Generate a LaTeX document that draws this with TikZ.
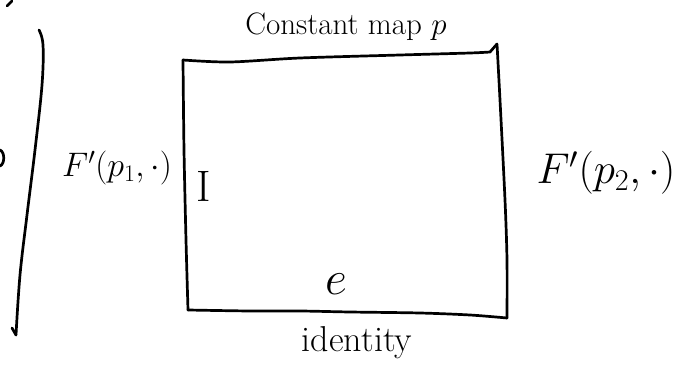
\RequirePackage{fix-cm}
\documentclass[tikz,border=0pt]{standalone}
\usepackage{amsmath}
\begin{document}
\begin{tikzpicture}[x=1pt,y=-1pt,
  ink/.style={line width=2.7pt,line cap=round,line join=round,black},
  lbl/.style={inner sep=0pt,anchor=center}]
\useasboundingbox (0,0) rectangle (688,366);
% stray marks at the left border
\draw[ink] (7,6) -- (12,1);
\draw[ink] (0,150) .. controls (5,152) and (5,164) .. (0,166);
% long vertical stroke on the left
\draw[ink] plot[smooth,tension=0.6] coordinates {(39,30) (43,45) (42,85) (35,150) (27,215) (20,275) (16,335)};
\draw[ink] (12,328) -- (16,335);
% rectangle
\coordinate (tl) at (183,60);
\coordinate (tr) at (497,44);
\coordinate (br) at (507,318);
\coordinate (bl) at (188,310);
\draw[ink] plot[smooth,tension=0.5] coordinates {(tl) (230,62) (300,58) (400,55) (470,53) (490,52)} -- (tr);
\draw[ink] plot[smooth,tension=0.5] coordinates {(tr) (500,100) (505,200) (507,260) (br)};
\draw[ink] plot[smooth,tension=0.5] coordinates {(bl) (250,311) (300,311) (350,312) (420,313) (470,315) (br)};
\draw[ink] plot[smooth,tension=0.5] coordinates {(tl) (184,150) (186,240) (bl)};
% labels
\node[lbl] (top) at (346,27) {\fontsize{31}{34}\selectfont Constant map $p$};
\node[lbl] (left) at (117,168) {\fontsize{34}{38}\selectfont $F'(p_1,\cdot)$};
\node[lbl] (right) at (606,173) {\fontsize{43}{47}\selectfont $F'(p_2,\cdot)$};
\node[lbl] (I) at (204,186) {\fontsize{44}{48}\selectfont I};
\node[lbl] (e) at (336,284) {\fontsize{48}{52}\selectfont $e$};
\node[lbl] (bot) at (357,343) {\fontsize{36}{40}\selectfont identity};
\end{tikzpicture}
\end{document}
